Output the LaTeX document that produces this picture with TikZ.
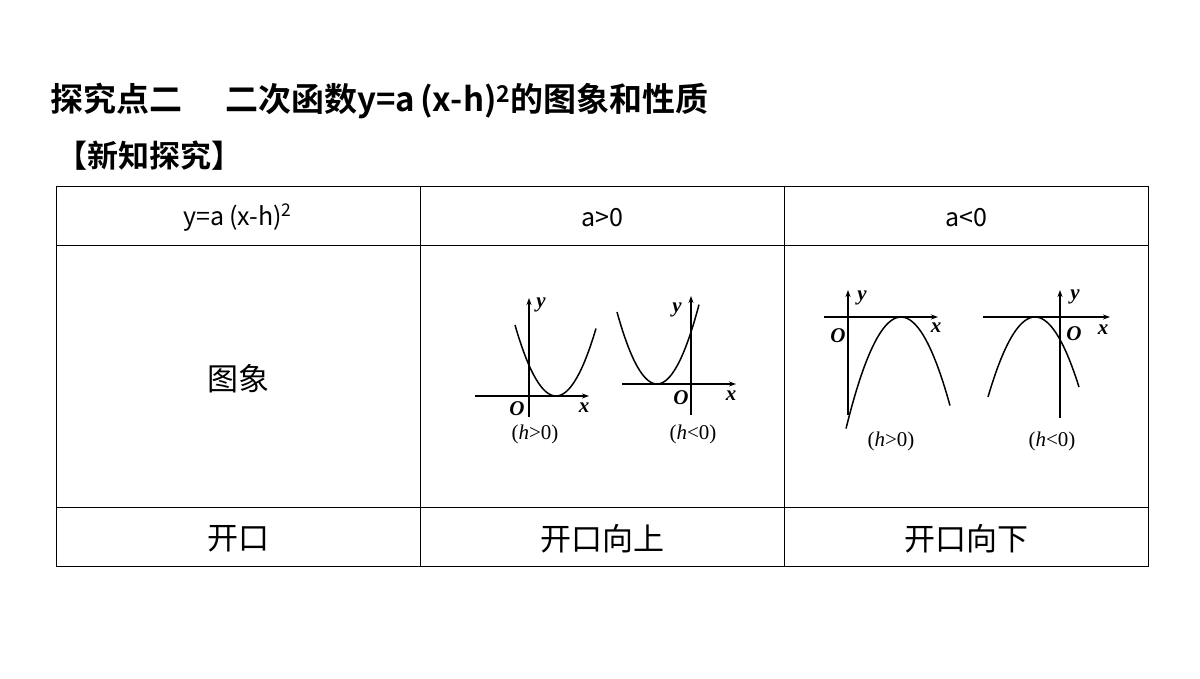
\documentclass[tikz,border=0pt]{standalone}
\usepackage{fontspec}
\setmainfont{Liberation Serif}
\newfontfamily\cjk{Noto Sans CJK SC}
\newfontfamily\cjkb{Noto Sans CJK SC Bold}
\usetikzlibrary{arrows.meta}
\tikzset{
  ax/.style={line width=1.3pt,-{Stealth[length=7pt,width=5pt]}},
  cur/.style={line width=1.5pt,smooth,samples=40},
  lab/.style={font=\fontsize{21}{21}\selectfont\bfseries\itshape,inner sep=0pt},
  hcap/.style={font=\fontsize{21}{21}\selectfont,inner sep=0pt},
  cell/.style={font=\fontsize{25}{25}\selectfont\cjk,inner sep=0pt},
  grid/.style={line width=0.9pt}
}
\begin{document}
\begin{tikzpicture}[x=1pt,y=-1pt]
\useasboundingbox (0,0) rectangle (1200,679);
\fill[white] (0,0) rectangle (1200,679);
\node[anchor=west,inner sep=0pt,font=\fontsize{33}{33}\selectfont\cjkb] (title) at (50,101) {探究点二\hspace{1.3em}二次函数y=a\,(x-h)\textsuperscript{2}的图象和性质};
\node[anchor=west,inner sep=0pt,font=\fontsize{31}{31}\selectfont\cjkb] (sub) at (56,156) {【新知探究】};
% table
\draw[grid] (56,186) rectangle (1148,566);
\draw[grid] (56,245) -- (1148,245);
\draw[grid] (56,507) -- (1148,507);
\draw[grid] (420,186) -- (420,566);
\draw[grid] (784,186) -- (784,566);
\node[cell] (h1) at (238,218) {y=a\,(x-h)\textsuperscript{2}};
\node[cell] (h2) at (602,218) {a>0};
\node[cell] (h3) at (966,218) {a<0};
\node[cell,font=\fontsize{31}{31}\selectfont\cjk] (r1) at (238,379) {图象};
\node[cell,font=\fontsize{31}{31}\selectfont\cjk] (r2) at (238,539) {开口};
\node[cell,font=\fontsize{31}{31}\selectfont\cjk] (r3) at (602,539) {开口向上};
\node[cell,font=\fontsize{31}{31}\selectfont\cjk] (r4) at (966,539) {开口向下};
% graph 1
\draw[ax] (475,396) -- (589,396);
\draw[ax] (529,417) -- (529,298);
\draw[cur] plot[domain=-41:40] ({556+\x},{396-0.0422*\x*\x});
\node[lab] (o1) at (517,409) {O};
\node[lab] (y1) at (541,305) {y};
\node[lab] (x1) at (584,408) {x};
\node[hcap] (c1) at (535,434) {(\textit{h}>0)};
% graph 2
\draw[ax] (622,384) -- (736,384);
\draw[ax] (691,415) -- (691,296);
\draw[cur] plot[domain=-40:42] ({657+\x},{384-0.045*\x*\x});
\node[lab] (y2) at (677,310) {y};
\node[lab] (o2) at (681,398) {O};
\node[lab] (x2) at (731,396) {x};
\node[hcap] (c2) at (693,434) {(\textit{h}<0)};
% graph 3
\draw[ax] (824,317) -- (938,317);
\draw[ax] (848,415) -- (848,290);
\draw[cur] plot[domain=-55:49] ({901+\x},{317+0.0369*\x*\x});
\node[lab] (y3) at (862,298) {y};
\node[lab] (o3) at (838,336) {O};
\node[lab] (x3) at (936,328) {x};
\node[hcap] (c3) at (891,441) {(\textit{h}>0)};
% graph 4
\draw[ax] (983,317) -- (1110,317);
\draw[ax] (1060,418) -- (1060,290);
\draw[cur] plot[domain=-47:44] ({1035+\x},{317+0.0362*\x*\x});
\node[lab] (y4) at (1075,297) {y};
\node[lab] (o4) at (1074,334) {O};
\node[lab] (x4) at (1103,330) {x};
\node[hcap] (c4) at (1052,441) {(\textit{h}<0)};
\end{tikzpicture}
\end{document}
